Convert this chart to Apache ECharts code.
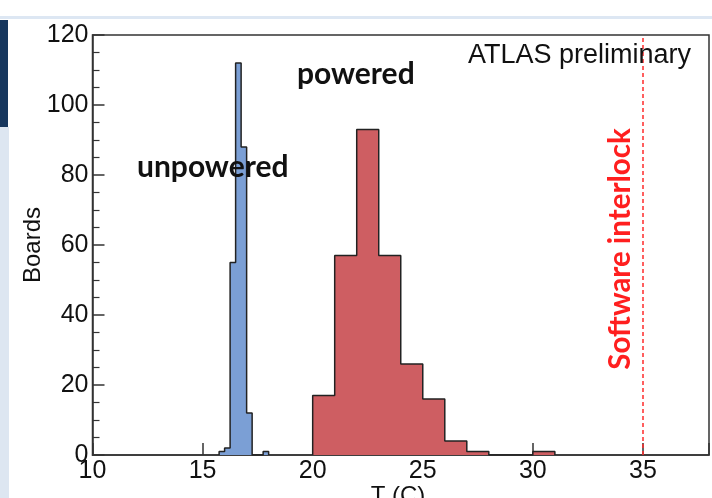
<!DOCTYPE html>
<html>
<head>
<meta charset="utf-8">
<title>Board temperatures</title>
<script src="https://cdn.jsdelivr.net/npm/echarts@6/dist/echarts.min.js"></script>
<style>
  html, body { margin: 0; padding: 0; background: #fff; }
</style>
</head>
<body>
<div id="main" style="width:712px;height:498px;"></div>
<script type="text/javascript">
// histogram contents
var unpoweredStart = 15.75;
var unpoweredWidth = 0.25;
var unpoweredCounts = [1, 2, 55, 112, 88, 12, 0, 0, 1];

var poweredStart = 20;
var poweredWidth = 1;
var poweredCounts = [17, 57, 93, 57, 26, 16, 4, 1, 0, 0, 1];

var interlockT = 35;
var xTicks = [10, 15, 20, 25, 30, 35];

// turn bins into points for a stepped line (outline + fill)
function stepPoints(start, width, counts) {
    var pts = [[start, 0]];
    for (var i = 0; i < counts.length; i++) {
        pts.push([start + i * width, counts[i]]);
    }
    pts.push([start + counts.length * width, 0]);
    return pts;
}

var myChart = echarts.init(document.getElementById('main'));

var tickFont = { fontFamily: 'Liberation Sans', fontSize: 25, color: '#111' };

option = {
    animation: false,
    grid: {
        left: 92.5, top: 35, right: 1.5, bottom: 43,
        show: true, borderColor: '#333', borderWidth: 1.5, backgroundColor: '#fff'
    },
    xAxis: {
        type: 'value', min: 10, max: 38, interval: 5,
        axisLine: { lineStyle: { color: '#333', width: 1.5 } },
        axisTick: { inside: true, length: 12, lineStyle: { color: '#333', width: 1.5 } },
        axisLabel: Object.assign({
            margin: 4,
            formatter: function (v) { return xTicks.indexOf(v) >= 0 ? String(v) : ''; }
        }, tickFont),
        splitLine: { show: false }
    },
    yAxis: {
        type: 'value', min: 0, max: 120, interval: 20,
        axisLine: { show: true, lineStyle: { color: '#333', width: 1.5 } },
        axisTick: { show: true, inside: true, length: 12, lineStyle: { color: '#333', width: 1.5 } },
        minorTick: { show: true, splitNumber: 4, length: 7, lineStyle: { color: '#333', width: 1.2 } },
        axisLabel: Object.assign({ margin: 4 }, tickFont),
        splitLine: { show: false }
    },
    series: [
        {
            name: 'unpowered',
            type: 'line',
            step: 'end',
            symbol: 'none',
            data: stepPoints(unpoweredStart, unpoweredWidth, unpoweredCounts),
            lineStyle: { color: '#222', width: 1.5 },
            areaStyle: { color: '#7b9fd5', opacity: 1 }
        },
        {
            name: 'powered',
            type: 'line',
            step: 'end',
            symbol: 'none',
            data: stepPoints(poweredStart, poweredWidth, poweredCounts),
            lineStyle: { color: '#222', width: 1.5 },
            areaStyle: { color: '#ce5e62', opacity: 1 },
            markLine: {
                silent: true,
                symbol: 'none',
                label: { show: false },
                lineStyle: { color: '#ff2b2b', width: 1.5, type: [4, 3] },
                data: [{ xAxis: interlockT }]
            }
        }
    ],
    graphic: [
        // slide decoration around the plot
        { type: 'rect', shape: { x: 0, y: 16, width: 712, height: 3 }, style: { fill: '#dde7f3' }, silent: true },
        { type: 'rect', shape: { x: 0, y: 20, width: 8, height: 107 }, style: { fill: '#17375e' }, silent: true },
        { type: 'rect', shape: { x: 0, y: 127, width: 9, height: 371 }, style: { fill: '#dde6f1' }, silent: true },
        {
            type: 'text', left: 468, top: 42, z: 100,
            style: { text: 'ATLAS preliminary', fontFamily: 'Liberation Sans', fontSize: 27, fill: '#111' }
        },
        {
            type: 'text', left: 297, top: 59, z: 100,
            style: { text: 'powered', fontFamily: 'Lato', fontWeight: 'bold', fontSize: 30, fill: '#111' }
        },
        {
            type: 'text', left: 137, top: 152, z: 100,
            style: { text: 'unpowered', fontFamily: 'Lato', fontWeight: 'bold', fontSize: 30, fill: '#111' }
        },
        {
            type: 'text', x: 620, y: 249, rotation: Math.PI / 2, z: 100,
            style: {
                text: 'Software interlock', fontFamily: 'Lato', fontWeight: 'bold', fontSize: 29.5,
                fill: '#ff1f1f', align: 'center', verticalAlign: 'middle'
            }
        },
        {
            type: 'text', x: 33, y: 245, rotation: Math.PI / 2, z: 100,
            style: {
                text: 'Boards', fontFamily: 'Liberation Sans', fontSize: 24, fill: '#111',
                align: 'center', verticalAlign: 'middle'
            }
        },
        {
            type: 'text', x: 398, y: 484, z: 100,
            style: {
                text: 'T (C)', fontFamily: 'Liberation Sans', fontSize: 24, fill: '#111',
                align: 'center', verticalAlign: 'top'
            }
        }
    ]
};

myChart.setOption(option);
</script>
</body>
</html>
